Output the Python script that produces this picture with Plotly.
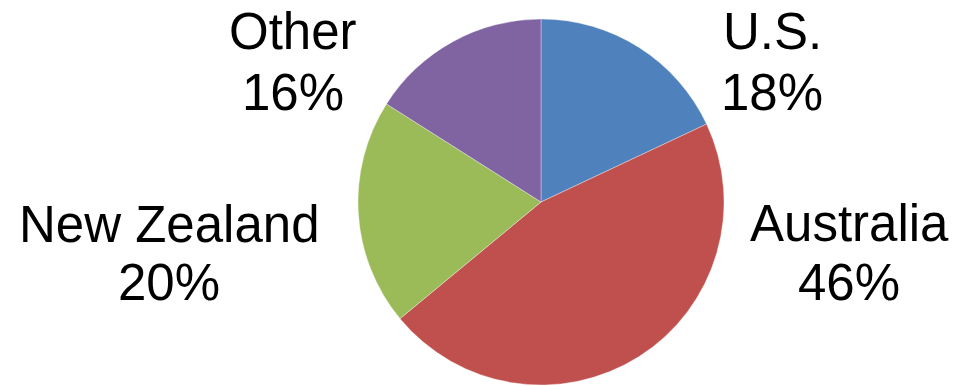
import plotly.graph_objects as go

# Data
regions = ["U.S.", "Australia", "New Zealand", "Other"]
shares = [18, 46, 20, 16]
colors = ["#4F81BD", "#C0504D", "#9BBB59", "#8064A2"]

W, H = 957, 386

# pie geometry (page pixels)
cx, cy, r = 541, 202, 183

fig = go.Figure(go.Pie(
    labels=regions,
    values=shares,
    sort=False,
    direction="clockwise",
    rotation=0,
    textinfo="none",
    hoverinfo="label+percent",
    marker=dict(colors=colors, line=dict(color="rgba(255,255,255,0.35)", width=1)),
    domain=dict(x=[(cx - r) / W, (cx + r) / W],
                y=[max(0.0, (H - (cy + r)) / H), (H - (cy - r)) / H]),
    showlegend=False,
))

# label anchor positions (pixel centres): x, name-line y, percent-line y
label_pos = {
    "U.S.": (772, 32, 93),
    "Australia": (849, 224, 282),
    "New Zealand": (169, 225, 282),
    "Other": (293, 32, 93),
}

annotations = []
for name, val in zip(regions, shares):
    x, y1, y2 = label_pos[name]
    for txt, yy in ((name, y1), (f"{val}%", y2)):
        annotations.append(dict(
            x=x / W, y=1 - yy / H, xref="paper", yref="paper",
            text=txt, showarrow=False, xanchor="center", yanchor="middle",
            font=dict(family="Liberation Sans, Arial, sans-serif", size=51, color="#000000"),
        ))

fig.update_layout(
    width=W, height=H,
    margin=dict(l=0, r=0, t=0, b=0),
    paper_bgcolor="white",
    plot_bgcolor="white",
    annotations=annotations,
)

fig.write_html("out.html", config={"displayModeBar": False},
               post_script="document.body.style.margin='0';")
